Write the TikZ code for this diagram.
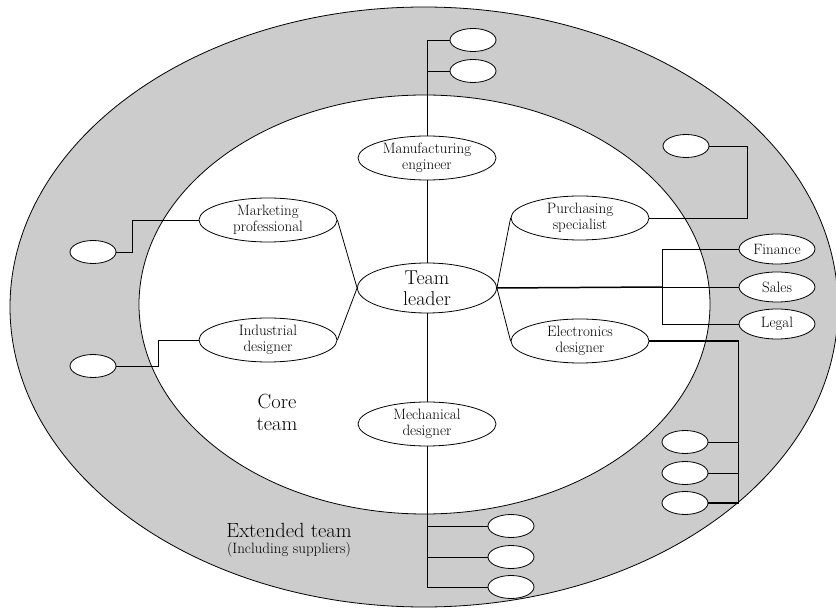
\documentclass[tikz,border=0pt]{standalone}
\usepackage{fontspec}
\usepackage{tikz}
\usetikzlibrary{shapes.geometric, positioning}

\begin{document}
\begin{tikzpicture}[x=1pt, y=-1pt,
  member/.style={draw, ellipse, fill=white, inner sep=0pt, minimum width=138pt, minimum height=44pt, align=center, font=\fontsize{15}{16.5}\selectfont, line width=0.8pt},
  leader/.style={member, minimum width=139pt, minimum height=50pt, font=\fontsize{20}{21}\selectfont},
  dept/.style={member, minimum width=76pt, minimum height=30pt},
  blank/.style={draw, ellipse, fill=white, inner sep=0pt, minimum width=46pt, minimum height=23pt, line width=0.8pt},
  link/.style={line width=0.8pt},
  boldlink/.style={line width=1.5pt},
  caption/.style={align=center, inner sep=0pt}
]
\clip (0,0) rectangle (836,612);

% --- Team rings ---
\draw[fill=gray!40, line width=0.8pt] (424,307) ellipse [x radius=414pt, y radius=300pt];
\draw[fill=white, line width=0.8pt] (424.5,304.5) ellipse [x radius=285.5pt, y radius=209.5pt];

% --- Core team ---
\node[leader] (lead) at (427,288) {Team\\leader};
\node[member] (mfg) at (427,158) {Manufacturing\\engineer};
\node[member] (mkt) at (268,220) {Marketing\\professional};
\node[member] (ind) at (268,340) {Industrial\\designer};
\node[member] (pur) at (580,218) {Purchasing\\specialist};
\node[member] (ele) at (580,341) {Electronics\\designer};
\node[member] (mech) at (427,424) {Mechanical\\designer};

% --- Extended team ---
\node[dept] (fin) at (777,249) {Finance};
\node[dept] (sales) at (777,287) {Sales};
\node[dept] (legal) at (777,324) {Legal};

\node[blank] (t1) at (473,40) {};
\node[blank] (t2) at (473,71) {};
\node[blank] (pr) at (686,146) {};
\node[blank] (l1) at (93,252) {};
\node[blank] (l2) at (93,366) {};
\node[blank] (b1) at (511,526) {};
\node[blank] (b2) at (511,557) {};
\node[blank] (b3) at (511,587) {};
\node[blank] (r1) at (685,442) {};
\node[blank] (r2) at (685,473) {};
\node[blank] (r3) at (685,503) {};

% --- Labels ---
\node[caption, font=\fontsize{20.5}{22}\selectfont] (core) at (277,412) {Core\\team};
\node[caption, font=\fontsize{20.5}{22}\selectfont] (ext) at (289,530) {Extended team};
\node[caption, font=\fontsize{15}{16}\selectfont, below=5pt of ext] (sup) {(Including suppliers)};

% --- Core links ---
\draw[link] (mfg.south) -- (lead.north);
\draw[link] (lead.south) -- (mech.north);
\draw[link] (mkt.east) -- (lead.west);
\draw[link] (ind.east) -- (lead.west);
\draw[link] (pur.west) -- (lead.east);
\draw[link] (ele.west) -- (lead.east);

% --- Links to extended team ---
\draw[link] (mfg.north) |- (t1.west);
\draw[link] (mfg.north |- t2.west) -- (t2.west);
\draw[link] (mkt.west) -| ([xshift=16pt]l1.east) -- (l1.east);
\draw[link] (ind.west) -| ([xshift=42pt]l2.east) -- (l2.east);
\draw[link] (pur.east) -| ([xshift=38pt]pr.east) -- (pr.east);

\coordinate (fork) at ([xshift=-76pt]sales.west);
\draw[boldlink] (lead.east) -- (fork);
\draw[link] (fork) -- (sales.west);
\draw[link] (fin.west) -| (fork) |- (legal.west);

\draw[boldlink] (ele.east) -| ([xshift=30pt]r3.east) -- (r3.east);
\foreach \i in {1,2}
  \draw[link] (r\i.east) -- ++(30,0);

\draw[link] (mech.south) |- (b3.west);
\foreach \i in {1,2}
  \draw[link] (mech.south |- b\i.west) -- (b\i.west);

\end{tikzpicture}
\end{document}
